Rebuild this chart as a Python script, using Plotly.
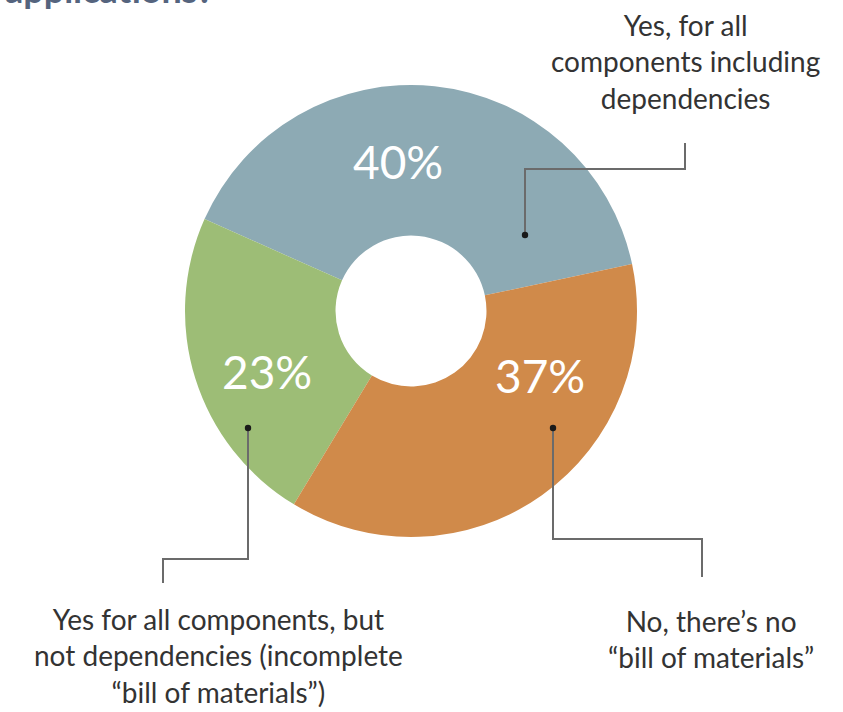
import plotly.graph_objects as go

# ---- data ----
labels = [
    "Yes, for all components including dependencies",
    "Yes for all components, but not dependencies (incomplete “bill of materials”)",
    "No, there’s no “bill of materials”",
]
values = [40, 23, 37]
colors = ["#8DAAB4", "#9DBD76", "#D08A4A"]

callout_texts = [
    "Yes, for all<br>components including<br>dependencies",
    "Yes for all components, but<br>not dependencies (incomplete<br>“bill of materials”)",
    "No, there’s no<br>“bill of materials”",
]

W, H = 843, 712


def px(x):
    return x / W


def py(y):
    return 1 - y / H


# pie geometry (pixels)
cx, cy, R = 411, 311, 226

fig = go.Figure(
    go.Pie(
        labels=labels,
        values=values,
        sort=False,
        direction="counterclockwise",
        rotation=-66,
        hole=0.334,
        marker=dict(colors=colors, line=dict(width=0)),
        textinfo="none",
        domain=dict(x=[px(cx - R), px(cx + R)], y=[py(cy + R), py(cy - R)]),
        showlegend=False,
        hoverinfo="label+percent",
    )
)

line_col = "#6b6b6b"
leaders = [
    [(525, 235), (525, 169), (685, 169), (685, 143)],
    [(248, 428), (248, 559), (163, 559), (163, 583)],
    [(553, 428), (553, 539), (702, 539), (702, 577)],
]
shapes = []
for pts in leaders:
    path = "M " + " L ".join(f"{px(x)},{py(y)}" for x, y in pts)
    shapes.append(dict(type="path", xref="paper", yref="paper", path=path,
                       line=dict(color=line_col, width=2)))
    x0, y0 = pts[0]
    r = 3.2
    shapes.append(dict(type="circle", xref="paper", yref="paper",
                       x0=px(x0 - r), x1=px(x0 + r), y0=py(y0 + r), y1=py(y0 - r),
                       fillcolor="#1a1a1a", line=dict(width=0)))

font_txt = dict(family="Lato", size=28, color="#333333")
annotations = [
    dict(text=callout_texts[0], x=px(685), y=py(6), xanchor="center", yanchor="top"),
    dict(text=callout_texts[1], x=px(218), y=py(600), xanchor="center", yanchor="top"),
    dict(text=callout_texts[2], x=px(711), y=py(602), xanchor="center", yanchor="top"),
]
for a in annotations:
    a.update(xref="paper", yref="paper", showarrow=False, font=font_txt, align="center")

# percentage labels inside the slices
pct_pos = [(398, 162), (267, 371), (540, 376)]
for v, (x, y) in zip(values, pct_pos):
    annotations.append(dict(text=f"{v}%", x=px(x), y=py(y), xref="paper", yref="paper",
                            xanchor="center", yanchor="middle", showarrow=False,
                            font=dict(family="Lato", size=46, color="white")))

# cut-off title line at the very top (only its lower edge is visible in the original)
annotations.append(dict(text="<b>applications?</b>", x=px(3), y=1, xref="paper", yref="paper",
                        xanchor="left", yanchor="bottom", yshift=-13, showarrow=False,
                        font=dict(family="Lato", size=36, color="#55647e")))

fig.update_layout(
    width=W, height=H,
    margin=dict(l=0, r=0, t=0, b=0),
    paper_bgcolor="white", plot_bgcolor="white",
    shapes=shapes,
    annotations=annotations,
)

fig.write_html("out.html")
